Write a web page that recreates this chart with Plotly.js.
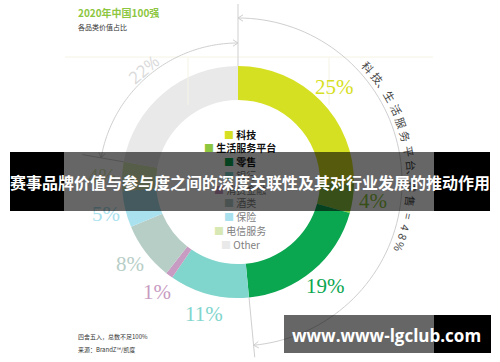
<!DOCTYPE html>
<html><head><meta charset="utf-8">
<script src="https://cdn.plot.ly/plotly-3.0.1.min.js"></script>
<style>html,body{margin:0;padding:0;background:#fff}</style>
</head><body><div id="chart" style="width:500px;height:362px"></div>
<script>
// ---- data ----
const categories = ['科技','生活服务平台','零售','银行','消费金融','酒类','保险','电信服务','Other'];
const shares = [25,4,19,11,1,8,5,4,22];
const colors = ['#d6e022','#8dc63f','#0aa650','#80d5cd','#c89cc2','#b7cec7','#aae1ee','#d8e8b4','#e9e9e9'];
const boldLegend = ['科技','生活服务平台','零售'];
const titleText = '2020年中国100强';
const subtitleText = '各品类价值占比';
const arcNoteRight = '科技、生活服务平台、零售 = 48%';
const noteLines = ['四舍五入，总数不足100%','来源：BrandZ™/凯度'];
const bannerText = '赛事品牌价值与参与度之间的深度关联性及其对行业发展的推动作用';
const watermarkText = 'www.www-lgclub.com';

// ---- geometry (pixels) ----
const W = 500, H = 362, CX = 238, CY = 182, R = 116, RIN = 82;
const px = x => x / W, py = y => 1 - y / H;
const rad = d => d * Math.PI / 180;
const pt = (r, a) => [CX + r * Math.sin(rad(a)), CY - r * Math.cos(rad(a))];
const total = shares.reduce((a, b) => a + b, 0);
const starts = []; let acc = 0;
shares.forEach(v => { starts.push(acc / total * 360); acc += v; });
const mids = shares.map((v, i) => starts[i] + v / total * 180);
const FONT = 'Noto Sans CJK SC, Noto Sans, sans-serif';

const trace = {
  type: 'pie', values: shares, labels: categories,
  marker: { colors: colors, line: { width: 0 } },
  hole: RIN / R, sort: false, direction: 'clockwise', rotation: 0,
  textinfo: 'none', hoverinfo: 'skip', showlegend: false,
  domain: { x: [px(CX - R), px(CX + R)], y: [py(CY + R), py(CY - R)] }
};

// ---- shapes ----
const shapes = [];
const LINE = '#cfcfcf';
function pathOf(points) {
  return points.map((p, i) => (i ? 'L' : 'M') + px(p[0]).toFixed(5) + ',' + py(p[1]).toFixed(5)).join(' ');
}
function addLine(points, color, width) {
  shapes.push({ type: 'path', xref: 'paper', yref: 'paper', path: pathOf(points), line: { color: color, width: width || 1 } });
}
function arc(r, a0, a1) {
  const pts = []; const n = 80;
  for (let k = 0; k <= n; k++) pts.push(pt(r, a0 + (a1 - a0) * k / n));
  return pts;
}
function arrowHead(tip, dir) {
  const n = [-dir[1], dir[0]];
  const b = [tip[0] - 5 * dir[0], tip[1] - 5 * dir[1]];
  addLine([[b[0] + 3.2 * n[0], b[1] + 3.2 * n[1]], tip, [b[0] - 3.2 * n[0], b[1] - 3.2 * n[1]]], LINE);
}
// faint background grid
addLine([[65, 57], [433, 57]], '#f4f4e6');
addLine([[188, 57], [188, 105]], '#f4f4e6');
addLine([[329, 57], [329, 105]], '#f4f4e6');
// top divider
addLine([[CX, 4], [CX, CY - R]], LINE);
// left arc (Other)
const otherStart = starts[starts.length - 1];
const RL = 139;
addLine(arc(RL, otherStart, 360), LINE);
addLine([pt(R, otherStart), pt(158, otherStart)], LINE);
arrowHead(pt(RL, 360), [1, 0]);
arrowHead(pt(RL, otherStart), [-Math.cos(rad(otherStart)), -Math.sin(rad(otherStart))]);
// right arc (first three categories)
const groupEnd = starts[3];
const RR = 164;
addLine(arc(RR, 0, groupEnd), LINE);
addLine([pt(R, groupEnd), pt(176, groupEnd)], LINE);
arrowHead(pt(RR, 0), [-1, 0]);
arrowHead(pt(RR, groupEnd), [Math.cos(rad(groupEnd)), Math.sin(rad(groupEnd))]);

// ---- annotations ----
const ann = [];
function txt(x, y, text, font, extra) {
  ann.push(Object.assign({ xref: 'paper', yref: 'paper', x: px(x), y: py(y), text: text,
    showarrow: false, font: font, xanchor: 'center', yanchor: 'middle' }, extra || {}));
}
function box(x0, y0, w, h, color) {
  ann.push({ xref: 'paper', yref: 'paper', x: px(x0), y: py(y0), xanchor: 'left', yanchor: 'top',
    width: w, height: h, text: ' ', bgcolor: color, borderpad: 0, borderwidth: 0, showarrow: false });
}
// percentage labels
shares.forEach((v, i) => {
  const isOther = i === shares.length - 1;
  const p = pt(isOther ? 147 : 136, mids[i]);
  if (isOther) {
    txt(p[0], p[1], v + '%', { family: 'Open Sans, sans-serif', size: 17, color: '#dadada' }, { textangle: mids[i] - 360 });
  } else {
    txt(p[0], p[1], v + '%', { family: 'Liberation Serif, serif', size: 21, color: colors[i] });
  }
});
// legend
const LEG_TOP = 134, LEG_BOT = 244;
categories.forEach((c, i) => {
  const y = LEG_TOP + (LEG_BOT - LEG_TOP) * i / (categories.length - 1);
  const bold = boldLegend.includes(c);
  const label = bold ? '<b>' + c + '</b>' : c;
  txt(240, y, '<span style="color:' + colors[i] + '">■</span> ' + label,
      { family: FONT, size: 10, color: bold ? '#111' : '#808080' });
});
// curved note along right arc
(function () {
  const chars = Array.from(arcNoteRight);
  const wOf = ch => ch === '、' ? 2.4 : ch === ' ' ? 0.8 : /[0-9=%]/.test(ch) ? 3.2 : 4.8;
  let a = 48.5;
  chars.forEach((ch, k) => {
    if (k > 0) a += (wOf(chars[k - 1]) + wOf(ch)) / 2;
    if (ch === ' ') return;
    const p = pt(174, a);
    txt(p[0], p[1], ch, { family: FONT, size: 11, color: '#444' }, { textangle: a });
  });
})();
// titles & notes
txt(76, 13, '<b>' + titleText + '</b>', { family: FONT, size: 10, color: '#8dc63f' }, { xanchor: 'left' });
txt(76, 27, subtitleText, { family: FONT, size: 7, color: '#333' }, { xanchor: 'left' });
noteLines.forEach((t, k) => txt(76, 336 + 13 * k, t, { family: FONT, size: 6, color: '#333' }, { xanchor: 'left' }));
// banner
box(10, 152, 54, 59, '#000');
box(64, 152, 370, 59, 'rgba(0,0,0,0.6)');
box(434, 152, 56, 59, '#000');
txt(250, 182, '<b>' + bannerText + '</b>', { family: FONT, size: 16, color: '#fff' });
// watermark
box(284, 315, 150, 38, 'rgba(0,0,0,0.6)');
box(434, 315, 57, 38, '#000');
txt(386.5, 335, '<b>' + watermarkText + '</b>', { family: 'Open Sans, sans-serif', size: 17, color: '#fff' });

const layout = {
  width: W, height: H, margin: { l: 0, r: 0, t: 0, b: 0 },
  paper_bgcolor: '#fff', plot_bgcolor: '#fff', showlegend: false,
  shapes: shapes, annotations: ann
};
Plotly.newPlot('chart', [trace], layout, { staticPlot: true, displayModeBar: false });
</script>
</body></html>
